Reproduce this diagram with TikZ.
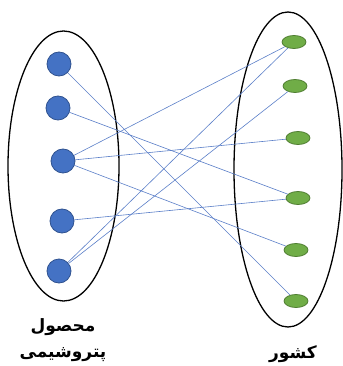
\documentclass[tikz,border=0pt]{standalone}
\usepackage{fontspec}
\newfontfamily\arabicfont[Script=Arabic]{DejaVu Sans}
\TeXXeTstate=1
\usetikzlibrary{shapes.geometric}
\definecolor{bfill}{HTML}{4472C4}
\definecolor{bdraw}{HTML}{2F528F}
\definecolor{gfill}{HTML}{70AD47}
\definecolor{gdraw}{HTML}{507E32}
\definecolor{edgec}{HTML}{5B7FC8}
\begin{document}
\begin{tikzpicture}[x=1pt,y=-1pt,
  bnode/.style={circle,fill=bfill,draw=bdraw,line width=0.8pt,minimum size=24pt,inner sep=0pt},
  gnode/.style={ellipse,fill=gfill,draw=gdraw,line width=0.8pt,minimum width=24pt,minimum height=13pt,inner sep=0pt},
  link/.style={draw=edgec,line width=0.6pt},
  group/.style={draw=black,line width=1.3pt},
  lbl/.style={font=\arabicfont\bfseries\fontsize{17}{19}\selectfont}]
\useasboundingbox (0,0) rectangle (342,366);
\draw[group] (63.5,166) ellipse [x radius=55.5, y radius=135];
\draw[group] (288,169.5) ellipse [x radius=54, y radius=157.5];
\node[bnode] (b1) at (59,64) {};
\node[bnode] (b2) at (58,108) {};
\node[bnode] (b3) at (63,161) {};
\node[bnode] (b4) at (62,221) {};
\node[bnode] (b5) at (59,271) {};
\node[gnode] (g1) at (294,42) {};
\node[gnode] (g2) at (295,86) {};
\node[gnode] (g3) at (298,138) {};
\node[gnode] (g4) at (298,198) {};
\node[gnode] (g5) at (296,250) {};
\node[gnode] (g6) at (296,301) {};
\path[link] (b1) -- (g6);
\path[link] (b2) -- (g4);
\path[link] (b3) -- (g1);
\path[link] (b3) -- (g3);
\path[link] (b3) -- (g5);
\path[link] (b4) -- (g4);
\path[link] (b5) -- (g1);
\path[link] (b5) -- (g2);
\node[lbl] (t1) at (63,327) {\beginR محصول\endR};
\node[lbl] (t2) at (63,355) {\beginR پتروشیمی\endR};
\node[lbl] (t3) at (293,354) {\beginR کشور\endR};
\end{tikzpicture}
\end{document}
